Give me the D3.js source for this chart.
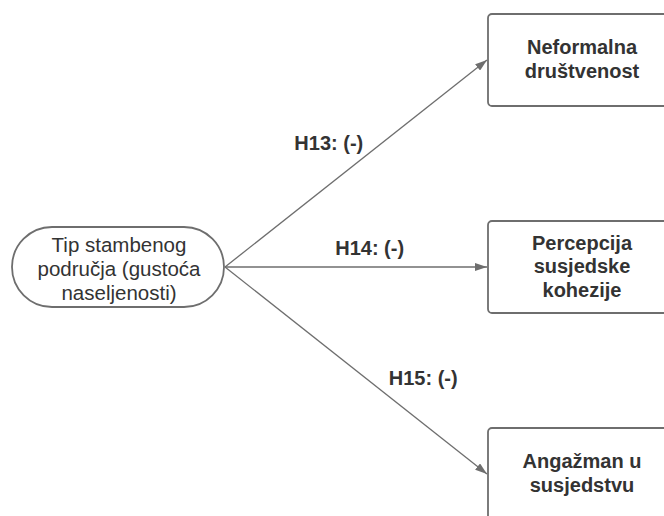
<!DOCTYPE html>
<html>
<head>
<meta charset="utf-8">
<script src="https://cdn.jsdelivr.net/npm/d3@7"></script>
<style>
  body { margin: 0; background: #fff; }
  svg { display: block; }
</style>
</head>
<body>
<svg id="diagram" width="664" height="516"></svg>
<script>
// source node and the three outcome nodes
var sourceLines = ["Tip stambenog", "područja (gustoća", "naseljenosti)"];
var targets = ["t1", "t2", "t3"];
var targetLines = [
  ["Neformalna", "društvenost"],
  ["Percepcija", "susjedske", "kohezije"],
  ["Angažman u", "susjedstvu"]
];
var hypotheses = ["H13: (-)", "H14: (-)", "H15: (-)"];

var svg = d3.select("#diagram"),
    width = +svg.attr("width"),
    height = +svg.attr("height");

var lineColor = "#6e6e6e",
    textColor = "#333333",
    font = "'Liberation Sans', Arial, sans-serif";

// vertical placement of the target boxes
var y = d3.scalePoint()
    .domain(targets)
    .range([60, 474]);

var src = { x: 12, w: 212, cy: 267, h: 80 };
var box = { x: 488, w: 188, h: 92 };

svg.append("defs").append("marker")
    .attr("id", "arrow")
    .attr("viewBox", "0 0 12 8")
    .attr("refX", 12)
    .attr("refY", 4)
    .attr("markerWidth", 12)
    .attr("markerHeight", 8)
    .attr("markerUnits", "userSpaceOnUse")
    .attr("orient", "auto")
  .append("path")
    .attr("d", "M0,0L12,4L0,8z")
    .attr("fill", lineColor);

// edges
var startX = src.x + src.w + 1, startY = src.cy;
svg.selectAll(".edge")
    .data(targets)
  .enter().append("line")
    .attr("class", "edge")
    .attr("x1", startX)
    .attr("y1", startY)
    .attr("x2", box.x - 1)
    .attr("y2", function(d) { return y(d); })
    .attr("stroke", lineColor)
    .attr("stroke-width", 1.3)
    .attr("marker-end", "url(#arrow)");

// hypothesis labels, placed along each edge
var labelPos = [
  { t: 0.6, dx: -54, dy: 0 },
  { t: 0.55, dx: 0, dy: -19 },
  { t: 0.75, dx: 1, dy: -44 }
];
svg.selectAll(".hyp")
    .data(hypotheses)
  .enter().append("text")
    .attr("class", "hyp")
    .attr("x", function(d, i) { return startX + (box.x - startX) * labelPos[i].t + labelPos[i].dx; })
    .attr("y", function(d, i) { return startY + (y(targets[i]) - startY) * labelPos[i].t + labelPos[i].dy; })
    .attr("text-anchor", "middle")
    .attr("dominant-baseline", "central")
    .attr("font-family", font)
    .attr("font-weight", "bold")
    .attr("font-size", 20)
    .attr("fill", textColor)
    .text(function(d) { return d; });

// source pill
svg.append("rect")
    .attr("x", src.x)
    .attr("y", src.cy - src.h / 2)
    .attr("width", src.w)
    .attr("height", src.h)
    .attr("rx", src.h / 2)
    .attr("ry", src.h / 2)
    .attr("fill", "#fff")
    .attr("stroke", lineColor)
    .attr("stroke-width", 1.8);

svg.append("g").selectAll("text")
    .data(sourceLines)
  .enter().append("text")
    .attr("x", src.x + src.w / 2 + 1)
    .attr("y", function(d, i) { return src.cy + 1 + (i - 1) * 24; })
    .attr("text-anchor", "middle")
    .attr("dominant-baseline", "central")
    .attr("font-family", font)
    .attr("font-size", 20.5)
    .attr("fill", textColor)
    .text(function(d) { return d; });

// target boxes
var node = svg.selectAll(".node")
    .data(targets)
  .enter().append("g")
    .attr("class", "node");

node.append("rect")
    .attr("x", box.x)
    .attr("y", function(d) { return y(d) - box.h / 2; })
    .attr("width", box.w)
    .attr("height", box.h)
    .attr("rx", 4)
    .attr("fill", "#fff")
    .attr("stroke", lineColor)
    .attr("stroke-width", 1.8);

node.each(function(d, i) {
  var lines = targetLines[i];
  d3.select(this).selectAll("text")
      .data(lines)
    .enter().append("text")
      .attr("x", box.x + 94)
      .attr("y", function(l, j) { return y(d) - 1 + (j - (lines.length - 1) / 2) * 23.5; })
      .attr("text-anchor", "middle")
      .attr("dominant-baseline", "central")
      .attr("font-family", font)
      .attr("font-weight", "bold")
      .attr("font-size", 20)
      .attr("fill", textColor)
      .text(function(l) { return l; });
});
</script>
</body>
</html>
